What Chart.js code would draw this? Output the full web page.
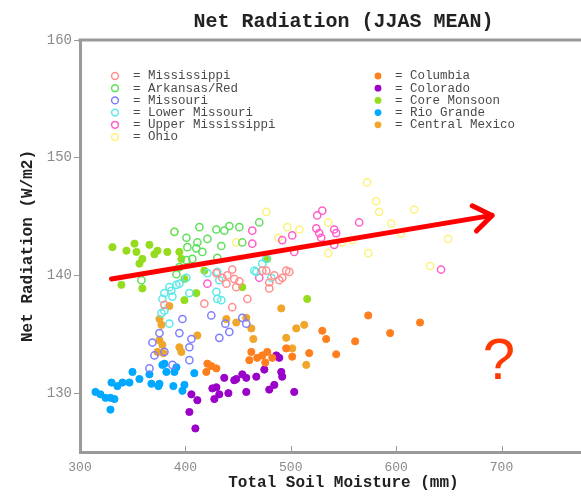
<!DOCTYPE html>
<html>
<head>
<meta charset="utf-8">
<script src="https://cdn.jsdelivr.net/npm/chart.js@4.4.1/dist/chart.umd.min.js"></script>
<style>
  html, body { margin: 0; padding: 0; background: #fff; overflow: hidden; }
</style>
</head>
<body>
<canvas id="chart" width="612" height="496"></canvas>
<script>
// basin means, [total soil moisture (mm), net radiation (W/m2)]
const MISSISSIPPI = [
  [380.1, 137.5], [418.0, 137.6], [429.4, 140.2], [435.1, 139.8], [438.9, 139.3], [439.8, 140.0],
  [444.5, 140.5], [446.4, 139.7], [448.3, 139.0], [451.2, 139.5], [444.5, 137.3], [458.8, 138.0],
  [473.0, 140.4], [476.8, 140.4], [479.6, 139.4], [484.4, 140.0], [489.1, 139.6], [492.0, 139.8],
  [495.7, 140.4], [498.6, 140.3], [479.6, 138.9]
];
const ARKANSAS_RED = [
  [389.6, 143.7], [401.0, 143.2], [413.3, 144.1], [429.4, 143.9], [437.0, 143.8], [441.7, 144.2],
  [451.2, 144.1], [470.1, 144.5], [434.1, 142.5], [454.0, 142.8], [411.4, 142.8], [420.9, 143.1],
  [410.4, 142.3], [416.1, 142.0], [406.6, 141.4], [401.0, 141.3], [394.3, 140.7], [358.3, 139.6],
  [391.5, 140.1], [430.3, 141.5], [401.9, 142.4]
];
const MISSOURI = [
  [365.9, 132.1], [368.7, 134.3], [370.6, 133.2], [375.4, 135.1], [380.1, 133.5], [387.7, 132.4],
  [394.3, 135.1], [397.2, 136.3], [403.8, 133.9], [403.8, 132.8], [405.7, 134.6], [424.6, 136.6],
  [432.2, 134.7], [437.9, 135.9], [441.7, 135.2], [454.0, 136.4], [457.8, 135.9]
];
const LOWER_MISSOURI = [
  [377.3, 136.8], [378.2, 138.0], [380.1, 138.5], [380.1, 137.0], [384.8, 139.0], [384.8, 135.9],
  [386.7, 138.7], [387.7, 138.2], [391.5, 139.2], [394.3, 139.3], [400.9, 139.8], [403.8, 138.5],
  [420.9, 140.2], [430.3, 140.3], [432.2, 139.6], [429.4, 138.6], [434.1, 137.9], [430.3, 138.0],
  [465.4, 140.4], [473.0, 141.0], [476.8, 141.4], [481.5, 139.8], [467.3, 140.3]
];
const UPPER_MISSISSIPPI = [
  [420.9, 139.3], [463.5, 143.8], [463.5, 142.7], [470.1, 139.8], [491.9, 143.0], [501.4, 143.4],
  [503.3, 142.0], [524.2, 144.0], [525.1, 145.1], [529.9, 145.5], [527.0, 143.6], [528.9, 143.2],
  [541.2, 143.9], [543.1, 143.6], [541.2, 142.6], [564.9, 144.5], [642.6, 140.5]
];
const OHIO = [
  [389.6, 143.7], [448.3, 142.8], [476.8, 145.4], [488.2, 143.2], [496.7, 144.1], [508.1, 143.9],
  [535.6, 144.5], [535.6, 141.9], [548.8, 142.8], [558.3, 143.0], [572.5, 147.9], [573.5, 141.9],
  [581.0, 146.3], [583.9, 145.4], [595.3, 144.4], [604.7, 143.6], [617.1, 145.6], [632.2, 140.8],
  [649.3, 143.1]
];
const COLUMBIA = [
  [420.9, 132.5], [419.9, 131.8], [424.6, 132.3], [429.4, 132.1], [462.6, 133.5], [460.7, 132.8],
  [468.2, 133.0], [473.0, 133.2], [477.7, 133.5], [475.8, 132.6], [482.5, 133.0], [495.7, 133.8],
  [501.4, 133.1], [517.5, 133.4], [529.9, 135.3], [533.6, 134.6], [543.1, 133.3], [561.1, 134.4],
  [573.5, 136.6], [594.3, 135.1], [622.7, 136.0]
];
const COLORADO = [
  [405.7, 129.9], [411.4, 129.4], [403.8, 128.4], [409.5, 127.0], [425.6, 130.4], [427.5, 129.5],
  [432.2, 129.9], [436.9, 131.3], [440.8, 130.0], [446.4, 131.1], [448.3, 131.2], [454.0, 131.6],
  [457.8, 131.3], [457.8, 130.1], [467.3, 131.4], [474.9, 132.0], [479.6, 130.3], [484.4, 130.7],
  [486.3, 133.2], [489.1, 133.0], [491.0, 131.8], [491.9, 131.4], [503.3, 130.1], [429.4, 130.5]
];
const CORE_MONSOON = [
  [330.8, 142.4], [339.3, 139.2], [344.1, 142.1], [351.7, 142.7], [353.6, 142.0], [356.4, 141.0],
  [359.2, 141.4], [359.2, 138.9], [365.9, 142.6], [370.6, 141.8], [373.5, 142.1], [382.9, 142.0],
  [394.3, 142.0], [396.2, 141.4], [399.1, 139.7], [399.1, 137.9], [410.4, 138.5], [418.0, 140.4],
  [454.0, 139.0], [477.7, 141.4], [515.6, 138.0]
];
const RIO_GRANDE = [
  [314.7, 130.1], [319.4, 129.9], [324.2, 129.6], [328.9, 129.6], [332.7, 129.5], [328.9, 128.6],
  [329.9, 130.9], [335.5, 130.6], [340.3, 130.9], [346.9, 130.9], [349.8, 131.8], [356.4, 131.2],
  [365.9, 131.6], [367.8, 130.8], [374.4, 130.6], [375.4, 130.8], [378.2, 132.4], [382.0, 131.8],
  [389.6, 131.8], [391.5, 132.2], [388.6, 130.6], [399.1, 130.7], [397.2, 130.2], [408.5, 131.7],
  [380.1, 132.5]
];
const CENTRAL_MEXICO = [
  [375.4, 136.3], [377.3, 135.8], [375.4, 134.5], [378.2, 134.1], [373.5, 133.5], [379.1, 133.4],
  [384.8, 137.4], [394.3, 133.9], [396.2, 133.5], [411.4, 134.9], [438.9, 136.3], [448.3, 136.0],
  [457.8, 136.4], [462.6, 135.5], [464.5, 134.6], [491.0, 137.2], [495.7, 134.7], [501.4, 133.8],
  [505.2, 135.5], [512.8, 135.8], [514.7, 132.4]
];

// trend arrow and the question mark, in data units
const ARROW_FROM = [329.9, 139.7];
const ARROW_TO = [691.0, 145.1];
const QUESTION_AT = [697.6, 132.6];

const XTICKS = [300, 400, 500, 600, 700];
const YTICKS = [130, 140, 150, 160];

const OPEN_SERIES = [
  ['Mississippi', MISSISSIPPI, '#ff8f8f'],
  ['Arkansas/Red', ARKANSAS_RED, '#5fe05a'],
  ['Missouri', MISSOURI, '#7f7fff'],
  ['Lower Missouri', LOWER_MISSOURI, '#5ee8e8'],
  ['Upper Mississippi', UPPER_MISSISSIPPI, '#ff5fc8'],
  ['Ohio', OHIO, '#fff27a']
];
const FILLED_SERIES = [
  ['Columbia', COLUMBIA, '#ff7f1f'],
  ['Colorado', COLORADO, '#9a00c8'],
  ['Core Monsoon', CORE_MONSOON, '#96dc1e'],
  ['Rio Grande', RIO_GRANDE, '#00a8ff'],
  ['Central Mexico', CENTRAL_MEXICO, '#f0a62a']
];

const AXIS_GRAY = '#9a9a9a';
const MONO = '"Liberation Mono", "DejaVu Sans Mono", monospace';

const toPoints = arr => arr.map(([x, y]) => ({ x, y }));

const datasets = [
  ...OPEN_SERIES.map(([label, data, color]) => ({
    label, data: toPoints(data), borderColor: color, backgroundColor: 'rgba(0,0,0,0)',
    pointRadius: 3.6, borderWidth: 1.5, pointHoverRadius: 3.6, hollow: true
  })),
  ...FILLED_SERIES.map(([label, data, color]) => ({
    label, data: toPoints(data), borderColor: color, backgroundColor: color,
    pointRadius: 3.6, borderWidth: 1, pointHoverRadius: 3.6
  })),
  {
    type: 'line', label: 'trend', data: toPoints([ARROW_FROM, ARROW_TO]),
    borderColor: '#ff0000', borderWidth: 5, pointRadius: 0, borderCapStyle: 'round',
    order: -1, isTrend: true
  }
];

// title, axis titles, frame top, inward x ticks, legend and annotations
const decorations = {
  id: 'decorations',
  afterDraw(chart) {
    const { ctx, chartArea: a, scales: { x, y } } = chart;
    ctx.save();

    ctx.strokeStyle = AXIS_GRAY;
    ctx.lineWidth = 3;
    ctx.beginPath();
    ctx.moveTo(a.left - 1.5, a.top);
    ctx.lineTo(a.right, a.top);
    ctx.stroke();

    ctx.lineWidth = 1;
    XTICKS.forEach(v => {
      const px = Math.round(x.getPixelForValue(v)) + 0.5;
      ctx.beginPath();
      ctx.moveTo(px, a.bottom);
      ctx.lineTo(px, a.bottom - 6);
      ctx.stroke();
    });

    ctx.fillStyle = '#222';
    ctx.textAlign = 'center';
    ctx.textBaseline = 'middle';
    ctx.font = 'bold 20px ' + MONO;
    ctx.fillText('Net Radiation (JJAS MEAN)', (a.left + a.right) / 2, 22);

    ctx.font = 'bold 16px ' + MONO;
    ctx.fillText('Total Soil Moisture (mm)', (a.left + a.right) / 2, 483);
    ctx.save();
    ctx.translate(28, 246);
    ctx.rotate(-Math.PI / 2);
    ctx.fillText('Net Radiation (W/m2)', 0, 0);
    ctx.restore();

    // legend in two columns inside the plot
    ctx.font = '12.5px ' + MONO;
    ctx.textAlign = 'left';
    const drawEntry = (label, color, filled, mx, tx, row) => {
      const cy = 76 + row * 12.2;
      ctx.beginPath();
      ctx.arc(mx, cy, 3.4, 0, Math.PI * 2);
      if (filled) {
        ctx.fillStyle = color;
        ctx.fill();
      } else {
        ctx.strokeStyle = color;
        ctx.lineWidth = 1.5;
        ctx.stroke();
      }
      ctx.fillStyle = '#4a4a4a';
      ctx.fillText('=', tx - 15, cy);
      ctx.fillText(label, tx, cy);
    };
    OPEN_SERIES.forEach(([label, , color], i) => drawEntry(label, color, false, 115, 148, i));
    FILLED_SERIES.forEach(([label, , color], i) => drawEntry(label, color, true, 378, 410, i));

    // arrow head at the end of the trend line
    const x0 = x.getPixelForValue(ARROW_FROM[0]), y0 = y.getPixelForValue(ARROW_FROM[1]);
    const x1 = x.getPixelForValue(ARROW_TO[0]), y1 = y.getPixelForValue(ARROW_TO[1]);
    const ang = Math.atan2(y1 - y0, x1 - x0);
    const len = 22, spread = 0.62;
    ctx.strokeStyle = '#ff0000';
    ctx.lineWidth = 5;
    ctx.lineCap = 'round';
    ctx.lineJoin = 'round';
    ctx.beginPath();
    ctx.moveTo(x1 - len * Math.cos(ang - spread), y1 - len * Math.sin(ang - spread));
    ctx.lineTo(x1, y1);
    ctx.lineTo(x1 - len * Math.cos(ang + spread), y1 - len * Math.sin(ang + spread));
    ctx.stroke();

    ctx.fillStyle = '#ff3a00';
    ctx.font = '58px "Liberation Sans", Arial, sans-serif';
    ctx.textAlign = 'center';
    ctx.textBaseline = 'middle';
    ctx.fillText('?', x.getPixelForValue(QUESTION_AT[0]), y.getPixelForValue(QUESTION_AT[1]));

    ctx.restore();
  }
};

new Chart(document.getElementById('chart'), {
  type: 'scatter',
  data: { datasets },
  options: {
    responsive: false,
    animation: false,
    layout: { padding: { top: 40, left: 0, right: 4, bottom: 0 } },
    plugins: { legend: { display: false }, title: { display: false }, tooltip: { enabled: false } },
    scales: {
      x: {
        type: 'linear', min: 300, max: 800,
        afterBuildTicks: s => { s.ticks = XTICKS.map(value => ({ value })); },
        afterFit: s => { s.height = 44; },
        grid: { display: false, drawTicks: false },
        border: { display: true, color: AXIS_GRAY, width: 3 },
        ticks: { color: '#8a8a8a', padding: 8, font: { family: MONO, size: 13 }, maxRotation: 0 }
      },
      y: {
        type: 'linear', min: 125, max: 160,
        afterBuildTicks: s => { s.ticks = YTICKS.map(value => ({ value })); },
        afterFit: s => { s.width = 80; },
        grid: { display: true, drawOnChartArea: false, drawTicks: true, tickLength: 6, color: AXIS_GRAY },
        border: { display: true, color: AXIS_GRAY, width: 3 },
        ticks: { color: '#8a8a8a', padding: 2, font: { family: MONO, size: 14 } }
      }
    }
  },
  plugins: [decorations]
});
</script>
</body>
</html>
